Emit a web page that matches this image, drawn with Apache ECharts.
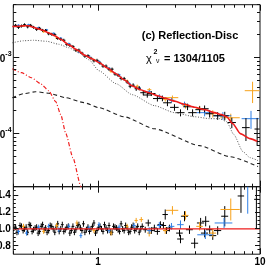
<!DOCTYPE html>
<html><head><meta charset="utf-8">
<script src="https://cdn.jsdelivr.net/npm/echarts@6/dist/echarts.min.js"></script>
<style>html,body{margin:0;padding:0;background:#fff}#c{width:267px;height:267px}</style>
</head><body><div id="c"></div>
<script>
// ---- model curves (keV, flux) ----
const modelE = [0.296,0.323,0.352,0.373,0.390,0.418,0.455,0.496,0.541,0.589,0.661,0.741,0.830,0.917,1.014,1.135,1.290,1.450,1.620,1.830,2.074,2.330,2.610,2.965,3.42,3.95,4.55,5.25,5.80,6.22,6.80,7.56,8.67,9.72];
const modelF = [2.58e-3,2.60e-3,2.64e-3,2.64e-3,2.56e-3,2.44e-3,2.30e-3,2.13e-3,1.95e-3,1.75e-3,1.48e-3,1.27e-3,1.08e-3,9.70e-4,8.67e-4,7.39e-4,6.16e-4,5.13e-4,4.28e-4,3.79e-4,3.46e-4,3.16e-4,2.93e-4,2.68e-4,2.44e-4,2.23e-4,2.07e-4,1.89e-4,1.78e-4,1.67e-4,1.35e-4,1.00e-4,8.60e-5,7.85e-5];
const reflE = [0.296,0.347,0.400,0.482,0.573,0.661,0.762,0.879,1.014,1.294,1.627,2.228,2.965,3.95,4.89,5.64,6.22,6.90,7.84,8.67,9.72];
const reflF = [1.575e-3,1.674e-3,1.70e-3,1.648e-3,1.505e-3,1.354e-3,1.163e-3,9.41e-4,6.74e-4,4.55e-4,3.26e-4,2.34e-4,1.89e-4,1.67e-4,1.575e-4,1.575e-4,1.44e-4,9.70e-5,5.80e-5,4.83e-5,4.41e-5];
const powE = [0.296,0.347,0.412,0.496,0.633,0.819,1.014,1.450,2.228,4.24,6.51,9.72];
const powF = [2.977e-4,3.36e-4,3.57e-4,3.41e-4,2.977e-4,2.56e-4,2.20e-4,1.67e-4,1.16e-4,6.95e-5,4.98e-5,3.68e-5];
const discE = [0.296,0.337,0.389,0.442,0.496,0.548,0.589,0.633,0.700,0.784,0.80];
const discF = [7.17e-4,6.35e-4,5.45e-4,4.55e-4,3.68e-4,2.64e-4,1.78e-4,1.00e-4,4.83e-5,2.01e-5,1.6e-5];
const ratioLineE = [0.3,10];
const ratioLineR = [1,1];

// ---- data points [E, value, dE, dValue] ----
const blackUp = [
[0.296,2.58e-3,0.007,1.2e-4],[0.310,2.67e-3,0.007,1.2e-4],[0.323,2.52e-3,0.008,1.2e-4],[0.337,2.62e-3,0.008,1.2e-4],
[0.352,2.72e-3,0.008,1.2e-4],[0.368,2.56e-3,0.008,1.2e-4],[0.384,2.67e-3,0.009,1.2e-4],[0.400,2.52e-3,0.009,1.1e-4],
[0.418,2.37e-3,0.009,1.1e-4],[0.436,2.44e-3,0.010,1.1e-4],[0.455,2.30e-3,0.010,1e-4],[0.475,2.29e-3,0.011,1e-4],
[0.496,2.07e-3,0.011,9e-5],[0.518,2.04e-3,0.012,9e-5],[0.541,2.01e-3,0.012,9e-5],[0.564,1.80e-3,0.013,8e-5],
[0.589,1.75e-3,0.013,8e-5],[0.615,1.70e-3,0.014,8e-5],[0.642,1.50e-3,0.014,7e-5],[0.670,1.46e-3,0.015,7e-5],
[0.700,1.41e-3,0.016,6e-5],[0.730,1.26e-3,0.016,6e-5],[0.762,1.26e-3,0.017,6e-5],[0.796,1.15e-3,0.018,5e-5],
[0.830,1.05e-3,0.019,5e-5],[0.867,1.06e-3,0.019,5e-5],[0.905,9.85e-4,0.020,4.5e-5],[0.944,9.13e-4,0.021,4.5e-5],
[0.986,9.24e-4,0.022,4.5e-5],[1.029,8.49e-4,0.023,4e-5],[1.074,7.77e-4,0.024,4e-5],[1.121,7.75e-4,0.025,4e-5],
[1.170,7.05e-4,0.026,3.5e-5],[1.221,7.07e-4,0.027,3.5e-5],[1.274,6.10e-4,0.028,3e-5],[1.330,5.88e-4,0.030,3e-5],
[1.389,5.34e-4,0.031,3e-5],[1.450,5.29e-4,0.032,3e-5],[1.513,4.80e-4,0.034,2.5e-5],[1.579,4.22e-4,0.035,2.5e-5],
[1.648,4.35e-4,0.037,2.5e-5],[1.721,3.91e-4,0.038,2.5e-5],[1.797,3.97e-4,0.040,2.5e-5],[1.903,3.46e-4,0.08,2.5e-5],
[2.015,3.23e-4,0.12,2.5e-5],[2.134,3.38e-4,0.13,2.5e-5],[2.326,2.90e-4,0.14,2.5e-5],[2.498,2.92e-4,0.15,2.5e-5],
[2.683,2.55e-4,0.16,2.5e-5],[2.965,2.22e-4,0.18,2.2e-5],[3.231,1.89e-4,0.19,2e-5],[3.571,2.26e-4,0.21,2.2e-5],
[3.836,1.89e-4,0.23,2e-5],[4.24,2.07e-4,0.25,2.2e-5],[4.55,2.13e-4,0.27,2.2e-5],[4.89,1.83e-4,0.29,2e-5],
[5.48,1.72e-4,0.33,2e-5],[6.06,1.72e-4,0.36,2.2e-5],[6.70,1.40e-4,0.40,2.2e-5],[8.19,1.20e-4,0.45,4e-5],
[9.60,1.15e-4,0.35,4.6e-5]
];
const blueUp = [
[0.323,2.68e-3,0.007,8e-5],[0.373,2.72e-3,0.008,8e-5],[0.430,2.50e-3,0.009,7e-5],[0.482,2.33e-3,0.010,7e-5],
[0.533,2.10e-3,0.011,6e-5],[0.589,1.81e-3,0.012,6e-5],[0.661,1.53e-3,0.014,5e-5],[0.762,1.19e-3,0.016,4e-5],
[0.879,1.05e-3,0.018,3e-5],[1.014,8.94e-4,0.020,3e-5],[1.170,7.28e-4,0.025,2.5e-5],[1.350,5.94e-4,0.030,2e-5],
[1.557,4.59e-4,0.035,2e-5],[1.797,3.97e-4,0.045,2e-5],[2.074,3.57e-4,0.06,2e-5],[2.393,3.10e-4,0.08,2e-5],
[2.84,2.76e-4,0.12,2e-5],[3.42,2.44e-4,0.15,2e-5],[4.55,1.89e-4,0.5,2e-5],[5.9,1.72e-4,0.75,2e-5],
[8.8,1.575e-4,1.1,4.2e-5]
];
const orangeUp = [
[0.347,2.63e-3,0.008,8e-5],[0.462,2.20e-3,0.010,7e-5],[0.556,1.82e-3,0.012,6e-5],[0.741,1.24e-3,0.015,4e-5],
[0.944,9.41e-4,0.020,3e-5],[1.204,6.58e-4,0.025,2.5e-5],[1.513,4.95e-4,0.030,2e-5],[1.747,4.22e-4,0.040,2e-5],
[2.074,3.79e-4,0.06,2e-5],[2.60,2.84e-4,0.08,2e-5],[2.88,2.98e-4,0.25,2e-5],[3.47,2.34e-4,0.15,2e-5],
[4.24,2.13e-4,0.20,2e-5],[5.11,1.83e-4,0.25,2e-5],[6.6,1.62e-4,0.9,2.1e-5],[9.0,3.68e-4,0.95,1.15e-4]
];
const blackRatio = [
[0.296,0.98,0.006,0.035],[0.303,1.01,0.006,0.035],[0.310,1.02,0.006,0.035],[0.316,0.96,0.007,0.035],
[0.323,0.97,0.007,0.035],[0.330,1.04,0.007,0.035],[0.337,1.03,0.007,0.035],[0.345,0.98,0.007,0.035],
[0.352,1.00,0.007,0.035],[0.360,1.02,0.007,0.035],[0.368,0.96,0.007,0.035],[0.376,1.05,0.008,0.035],
[0.384,1.04,0.008,0.035],[0.392,0.97,0.008,0.035],[0.400,0.99,0.008,0.035],[0.409,1.01,0.008,0.035],
[0.418,1.02,0.008,0.035],[0.427,0.95,0.009,0.035],[0.436,0.97,0.009,0.035],[0.446,1.03,0.009,0.035],
[0.455,1.05,0.009,0.035],[0.465,0.99,0.009,0.035],[0.475,1.01,0.010,0.035],[0.485,0.96,0.010,0.035],
[0.496,0.98,0.010,0.035],[0.507,1.04,0.010,0.035],[0.518,1.03,0.010,0.035],[0.529,1.00,0.011,0.035],
[0.541,0.96,0.011,0.035],[0.552,1.02,0.011,0.035],[0.564,1.06,0.011,0.035],[0.576,0.97,0.012,0.035],
[0.589,1.00,0.012,0.035],[0.602,1.05,0.012,0.035],[0.615,0.97,0.012,0.035],[0.628,0.99,0.013,0.035],
[0.642,1.02,0.013,0.035],[0.656,1.03,0.013,0.035],[0.670,0.95,0.013,0.035],[0.685,0.98,0.014,0.035],
[0.700,1.03,0.014,0.035],[0.715,0.96,0.014,0.035],[0.730,0.99,0.015,0.035],[0.746,1.04,0.015,0.035],
[0.762,1.05,0.015,0.035],[0.779,1.01,0.016,0.035],[0.796,0.98,0.016,0.035],[0.813,1.06,0.016,0.035],
[0.830,0.96,0.017,0.035],[0.848,0.99,0.017,0.035],[0.867,1.02,0.017,0.035],[0.886,0.97,0.018,0.035],
[0.905,1.00,0.018,0.035],[0.924,1.03,0.018,0.035],[0.944,1.07,0.019,0.035],[0.965,0.95,0.019,0.035],
[0.986,0.98,0.020,0.035],[1.007,1.02,0.020,0.035],[1.029,1.03,0.021,0.035],[1.051,1.00,0.021,0.035],
[1.074,0.97,0.021,0.035],[1.097,1.05,0.022,0.035],[1.121,1.01,0.022,0.035],[1.145,0.98,0.023,0.035],
[1.170,1.04,0.023,0.035],[1.195,0.96,0.024,0.035],[1.221,0.96,0.024,0.035],[1.247,1.03,0.025,0.035],
[1.274,1.02,0.025,0.035],[1.302,1.01,0.026,0.035],[1.330,0.99,0.027,0.035],[1.359,0.97,0.027,0.035],
[1.389,1.06,0.028,0.035],[1.419,1.00,0.028,0.035],[1.450,0.98,0.029,0.035],[1.481,1.04,0.030,0.035],
[1.513,1.01,0.030,0.035],[1.546,0.96,0.031,0.035],[1.579,0.97,0.032,0.035],[1.613,1.02,0.032,0.035],
[1.648,1.04,0.033,0.035],[1.684,0.98,0.034,0.035],[1.721,1.00,0.034,0.035],[1.758,1.03,0.035,0.035],
[1.797,0.96,0.036,0.035],[1.836,1.00,0.037,0.035],[1.875,1.03,0.05,0.035],
[1.957,0.99,0.06,0.035],[2.043,1.07,0.08,0.04],[2.134,0.98,0.08,0.04],[2.228,1.01,0.09,0.04],
[2.326,0.97,0.09,0.04],[2.428,1.05,0.10,0.04],[2.534,1.04,0.10,0.04],[2.60,1.17,0.10,0.06],
[2.646,0.98,0.11,0.04],[2.761,1.01,0.12,0.04],[3.185,0.95,0.15,0.04],[3.23,0.88,0.15,0.05],
[3.42,1.15,0.17,0.06],[3.67,0.99,0.18,0.05],[3.95,0.83,0.20,0.06],[4.30,1.07,0.22,0.06],
[4.55,0.95,0.23,0.05],[4.62,1.09,0.24,0.06],[4.89,0.99,0.25,0.05],[5.11,0.92,0.26,0.05],
[5.48,0.98,0.28,0.05],[6.06,1.15,0.30,0.12],[7.63,1.39,0.35,0.20],[9.5,1.35,0.30,0.35]
];
const blueRatio = [
[0.323,0.97,0.007,0.03],[0.362,0.95,0.008,0.03],[0.430,1.02,0.009,0.03],[0.496,1.03,0.010,0.03],
[0.573,0.99,0.012,0.03],[0.661,1.03,0.014,0.03],[0.784,0.92,0.016,0.03],[0.879,1.01,0.018,0.03],
[1.014,1.05,0.020,0.03],[1.170,0.98,0.025,0.03],[1.350,1.02,0.030,0.03],[1.670,1.04,0.040,0.03],
[2.07,0.98,0.06,0.04],[2.39,1.04,0.08,0.04],[2.84,1.03,0.12,0.04],[3.23,1.05,0.15,0.05],
[4.60,0.93,0.50,0.05],[6.0,1.07,0.75,0.06],[8.4,1.60,0.70,0.42]
];
const orangeRatio = [
[0.347,1.03,0.008,0.03],[0.462,0.97,0.010,0.03],[0.556,1.04,0.012,0.03],[0.741,1.07,0.015,0.03],
[0.944,0.98,0.020,0.03],[1.204,0.95,0.025,0.03],[1.513,1.03,0.030,0.03],[1.720,1.10,0.040,0.03],
[1.850,1.11,0.050,0.03],[2.07,0.95,0.06,0.04],[2.60,0.98,0.08,0.04],[2.88,1.22,0.25,0.05],
[3.47,1.16,0.15,0.05],[4.24,1.03,0.20,0.05],[5.11,0.95,0.25,0.05],[6.6,1.23,0.90,0.13]
];

// ---- ticks & tick labels ----
const xTickMinor = [0.3,0.4,0.5,0.6,0.7,0.8,0.9,2,3,4,5,6,7,8,9];
const xTickMajor = [1,10];
const xLabelVals = [1,10];
const xLabelTexts = ['1','10'];
const yUpMajor = [1e-4,1e-3];
const yUpMinor = [2e-5,3e-5,4e-5,5e-5,6e-5,7e-5,8e-5,9e-5,2e-4,3e-4,4e-4,5e-4,6e-4,7e-4,8e-4,9e-4,2e-3,3e-3,4e-3,5e-3];
const yUpLabelVals = [1e-4,1e-3];
const yUpLabelExp = ['-4','-3'];
const yLoMajor = [0.8,1.0,1.2,1.4];
const yLoMinor = [0.75,0.85,0.9,0.95,1.05,1.1,1.15,1.25,1.3,1.35,1.45];
const yLoLabelVals = [0.8,1.0,1.2,1.4];
const yLoLabelTexts = ['0.8','1.0','1.2','1.4'];

const EMIN=0.3, EMAX=10, FMIN=2e-5, FMAX=5e-3, RMIN=0.7, RMAX=1.5;
const FONT = '"Liberation Sans", Arial, Helvetica, sans-serif';
const pairs = (a,b)=>a.map((v,i)=>[v,b[i]]);
const yExt = [[FMIN,FMAX],[RMIN,RMAX]];

function crossSeries(gi, arr, color, z){
  return {type:'custom', xAxisIndex:gi, yAxisIndex:gi, clip:true, z, silent:true,
    data: arr, encode:{x:0,y:1},
    renderItem(p, api){
      const E=api.value(0), F=api.value(1), dE=api.value(2), dF=api.value(3);
      const l=api.coord([E-dE,F]), r=api.coord([E+dE,F]);
      const lo = F-dF>0 ? F-dF : F*1e-3;
      const t=api.coord([E,F+dF]), b=api.coord([E,lo]);
      return {type:'group', children:[
        {type:'line', shape:{x1:l[0],y1:l[1],x2:r[0],y2:r[1]}, style:{stroke:color,lineWidth:1}},
        {type:'line', shape:{x1:t[0],y1:t[1],x2:b[0],y2:b[1]}, style:{stroke:color,lineWidth:1}}
      ]};
    }};
}
function xTicks(gi, vals, len){
  const ye = yExt[gi];
  return {type:'custom', xAxisIndex:gi, yAxisIndex:gi, z:6, silent:true, clip:false,
    data: vals.map(v=>[v, ye[0]]), encode:{x:0,y:1},
    renderItem(p, api){
      const v=api.value(0);
      const b=api.coord([v,ye[0]]), t=api.coord([v,ye[1]]);
      const x=Math.round(b[0]-0.5)+0.5;
      return {type:'group', children:[
        {type:'line', shape:{x1:x,y1:b[1],x2:x,y2:b[1]-len}, style:{stroke:'#111',lineWidth:1}},
        {type:'line', shape:{x1:x,y1:t[1],x2:x,y2:t[1]+len}, style:{stroke:'#111',lineWidth:1}}
      ]};
    }};
}
function yTicks(gi, vals, len){
  return {type:'custom', xAxisIndex:gi, yAxisIndex:gi, z:6, silent:true, clip:false,
    data: vals.map(v=>[1, v]), encode:{x:0,y:1},
    renderItem(p, api){
      const v=api.value(1);
      const l=api.coord([EMIN,v]), r=api.coord([EMAX,v]);
      const y=Math.round(l[1]-0.5)+0.5;
      return {type:'group', children:[
        {type:'line', shape:{x1:l[0],y1:y,x2:l[0]+len,y2:y}, style:{stroke:'#111',lineWidth:1}},
        {type:'line', shape:{x1:r[0],y1:y,x2:r[0]-len,y2:y}, style:{stroke:'#111',lineWidth:1}}
      ]};
    }};
}
function lineSeries(gi, E, F, color, width, type, z){
  return {type:'line', xAxisIndex:gi, yAxisIndex:gi, data:pairs(E,F), showSymbol:false, silent:true,
    smooth:0.2, smoothMonotone:'x', z, lineStyle:{color, width, type}, clip:true};
}

const chart = echarts.init(document.getElementById('c'), null, {renderer:'canvas'});
const series = [
  crossSeries(0, orangeUp, '#f7a21b', 2),
  crossSeries(0, blueUp, '#2f7fe6', 2),
  crossSeries(0, blackUp, '#000', 3),
  lineSeries(0, reflE, reflF, '#555', 1, [1,1.6], 4),
  lineSeries(0, powE, powF, '#222', 1.1, [4,3], 4),
  lineSeries(0, discE, discF, '#f02020', 1.2, [4,2,1,2], 4),
  lineSeries(0, modelE, modelF, '#ee1c1c', 1.6, 'solid', 5),
  crossSeries(1, blackRatio, '#000', 2),
  crossSeries(1, orangeRatio, '#f7a21b', 3),
  crossSeries(1, blueRatio, '#2f7fe6', 3),
  lineSeries(1, ratioLineE, ratioLineR, '#ee1c1c', 1.4, 'solid', 5),
  xTicks(0, xTickMinor, 3), xTicks(0, xTickMajor, 6),
  xTicks(1, xTickMinor, 3), xTicks(1, xTickMajor, 6),
  yTicks(0, yUpMinor, 3), yTicks(0, yUpMajor, 6),
  yTicks(1, yLoMinor, 2.5), yTicks(1, yLoMajor, 5),
  {type:'custom', xAxisIndex:1, yAxisIndex:1, z:7, silent:true, clip:false,
   data: xLabelVals.map(v=>[v, RMIN]), encode:{x:0,y:1},
   renderItem(p, api){
     const b=api.coord([api.value(0), RMIN]);
     return {type:'text', x:b[0], y:b[1]+3.5,
       style:{text:xLabelTexts[p.dataIndex], font:'bold 10px '+FONT, fill:'#000', align:'center', verticalAlign:'top'}};
   }},
  {type:'custom', xAxisIndex:1, yAxisIndex:1, z:7, silent:true, clip:false,
   data: yLoLabelVals.map(v=>[EMIN, v]), encode:{x:0,y:1},
   renderItem(p, api){
     const c=api.coord([EMIN, api.value(1)]);
     return {type:'text', x:c[0]-2.5, y:c[1]+0.5,
       style:{text:yLoLabelTexts[p.dataIndex], font:'bold 10px '+FONT, fill:'#000', align:'right', verticalAlign:'middle'}};
   }},
  {type:'custom', xAxisIndex:0, yAxisIndex:0, z:7, silent:true, clip:false,
   data: yUpLabelVals.map(v=>[EMIN, v]), encode:{x:0,y:1},
   renderItem(p, api){
     const c=api.coord([EMIN, api.value(1)]);
     return {type:'group', children:[
       {type:'text', x:c[0]-8, y:c[1]+1.5,
        style:{text:'10', font:'bold 10px '+FONT, fill:'#000', align:'right', verticalAlign:'middle'}},
       {type:'text', x:c[0]-8, y:c[1]-3.5,
        style:{text:yUpLabelExp[p.dataIndex], font:'bold 7px '+FONT, fill:'#000', align:'left', verticalAlign:'middle'}}
     ]};
   }}
];

chart.setOption({
  animation:false,
  backgroundColor:'#fff',
  grid:[
    {left:13.3, right:7, top:4.7, height:182, show:true, borderColor:'#111', borderWidth:1, backgroundColor:'transparent'},
    {left:13.3, right:7, top:186.7, height:67.5, show:true, borderColor:'#111', borderWidth:1, backgroundColor:'transparent'}
  ],
  xAxis:[
    {type:'log', logBase:10, gridIndex:0, min:EMIN, max:EMAX, show:false},
    {type:'log', logBase:10, gridIndex:1, min:EMIN, max:EMAX, show:false}
  ],
  yAxis:[
    {type:'log', logBase:10, gridIndex:0, min:FMIN, max:FMAX, show:false},
    {type:'value', gridIndex:1, min:RMIN, max:RMAX, show:false}
  ],
  graphic:[
    {type:'text', x:190, y:36, z:10, style:{text:'(c) Reflection-Disc', font:'bold 11px '+FONT, fill:'#000', align:'center', verticalAlign:'middle'}},
    {type:'text', x:146, y:58.5, z:10, style:{text:'χ', font:'11px '+FONT, fill:'#000', align:'left', verticalAlign:'middle'}},
    {type:'text', x:153.5, y:52, z:10, style:{text:'2', font:'bold 7px '+FONT, fill:'#000', align:'left', verticalAlign:'middle'}},
    {type:'text', x:156, y:61.5, z:10, style:{text:'ν', font:'7px '+FONT, fill:'#000', align:'left', verticalAlign:'middle'}},
    {type:'text', x:164, y:58.5, z:10, style:{text:'= 1304/1105', font:'bold 11px '+FONT, fill:'#000', align:'left', verticalAlign:'middle'}}
  ],
  series
});
</script>
</body></html>
